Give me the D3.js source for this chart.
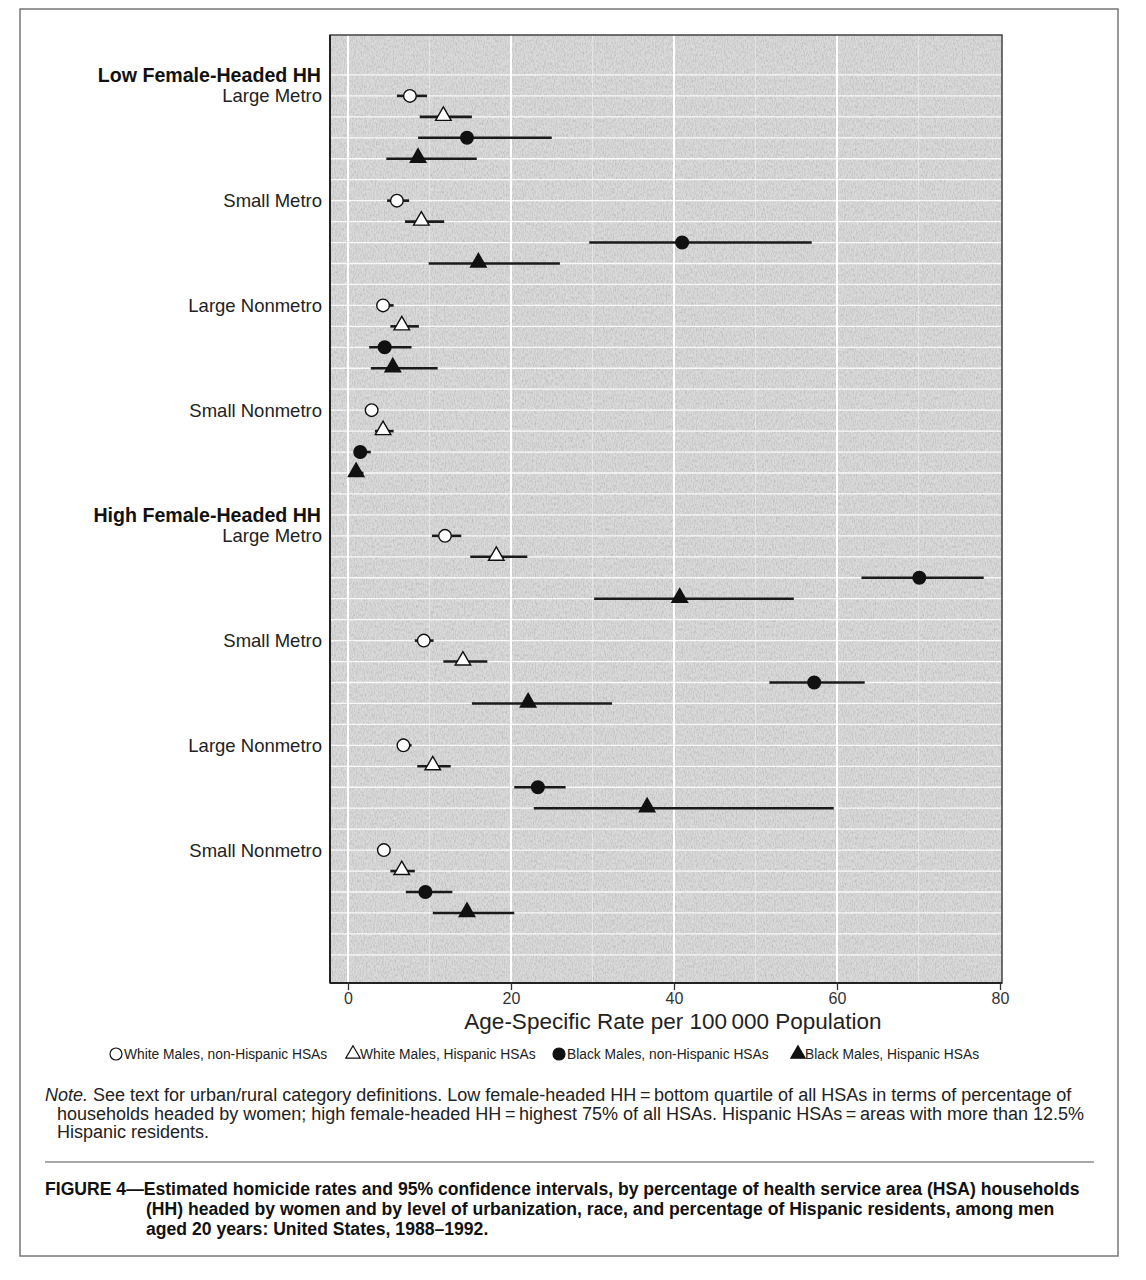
<!DOCTYPE html>
<html>
<head>
<meta charset="utf-8">
<script src="https://cdn.jsdelivr.net/npm/d3@7"></script>
<style>
body{margin:0;background:#fff;}
text{font-family:"Liberation Sans",Arial,Helvetica,sans-serif;}
</style>
</head>
<body>
<script>
// values (rate per 100 000, 95% CI)
var groups = ['Low Female-Headed HH', 'High Female-Headed HH'];
var areas = ['Large Metro', 'Small Metro', 'Large Nonmetro', 'Small Nonmetro'];
var seriesNames = ['White Males, non-Hispanic HSAs', 'White Males, Hispanic HSAs', 'Black Males, non-Hispanic HSAs', 'Black Males, Hispanic HSAs'];
var xTicks = [0, 20, 40, 60, 80];

// order: Low LM, SM, LN, SN, High LM, SM, LN, SN
var whiteNH   = [7.6, 6.0, 4.3, 2.9, 11.9, 9.3, 6.8, 4.4];
var whiteNHLo = [6.0, 4.8, 3.7, 2.5, 10.3, 8.2, 6.1, 4.0];
var whiteNHHi = [9.7, 7.5, 5.6, 3.3, 13.9, 10.5, 7.8, 4.8];

var whiteH   = [11.7, 9.0, 6.6, 4.3, 18.2, 14.1, 10.4, 6.6];
var whiteHLo = [8.8, 7.0, 5.2, 3.3, 15.0, 11.7, 8.5, 5.2];
var whiteHHi = [15.2, 11.8, 8.7, 5.6, 22.0, 17.1, 12.6, 8.2];

var blackNH   = [14.6, 41.0, 4.5, 1.5, 70.1, 57.2, 23.3, 9.5];
var blackNHLo = [8.6, 29.6, 2.6, 1.1, 63.0, 51.7, 20.4, 7.1];
var blackNHHi = [25.0, 56.9, 7.8, 2.8, 78.0, 63.4, 26.7, 12.8];

var blackH   = [8.6, 16.0, 5.5, 1.0, 40.7, 22.1, 36.7, 14.6];
var blackHLo = [4.7, 9.9, 2.8, 0.5, 30.2, 15.2, 22.8, 10.4];
var blackHHi = [15.8, 26.0, 11.0, 1.9, 54.7, 32.4, 59.6, 20.4];

var est = [whiteNH, whiteH, blackNH, blackH];
var lo = [whiteNHLo, whiteHLo, blackNHLo, blackHLo];
var hi = [whiteNHHi, whiteHHi, blackNHHi, blackHHi];

var W = 1146, H = 1280;
var svg = d3.select('body').append('svg').attr('width', W).attr('height', H);

// outer frame
svg.append('rect').attr('x', 20).attr('y', 9).attr('width', 1098).attr('height', 1247)
	.style('fill', 'none').style('stroke', '#777').style('stroke-width', 1.5);

var plotL = 330, plotR = 1002, plotT = 35, plotB = 983;
var x = d3.scaleLinear().domain([0, 80]).range([348, 1000]);
var y = d3.scaleLinear().domain([0, 43]).range([54, 54 + 43 * 20.95]);

// background with a bit of grain
var defs = svg.append('defs');
var f = defs.append('filter').attr('id', 'grain').attr('x', 0).attr('y', 0).attr('width', '100%').attr('height', '100%');
f.append('feTurbulence').attr('type', 'fractalNoise').attr('baseFrequency', '0.9 0.35').attr('numOctaves', 2).attr('seed', 4);
f.append('feColorMatrix').attr('type', 'matrix')
	.attr('values', '0 0 0 0 0  0 0 0 0 0  0 0 0 0 0  0 0 0 1.4 -0.55');
f.append('feComposite').attr('in2', 'SourceGraphic').attr('operator', 'in');

svg.append('rect').attr('x', plotL).attr('y', plotT).attr('width', plotR - plotL).attr('height', plotB - plotT)
	.style('fill', '#dadada');
svg.append('rect').attr('x', plotL).attr('y', plotT).attr('width', plotR - plotL).attr('height', plotB - plotT)
	.style('fill', '#000').style('opacity', 0.2).attr('filter', 'url(#grain)');

// grid
var rowIdx = d3.range(1, 44);
svg.selectAll('.hgrid').data(rowIdx).enter().append('line')
	.attr('x1', plotL).attr('x2', plotR)
	.attr('y1', function(d){ return y(d); }).attr('y2', function(d){ return y(d); })
	.style('stroke', '#fff').style('stroke-width', 1.3).style('opacity', 0.85);
svg.selectAll('.vminor').data([10, 30, 50, 70]).enter().append('line')
	.attr('x1', function(d){ return x(d); }).attr('x2', function(d){ return x(d); })
	.attr('y1', plotT).attr('y2', plotB)
	.style('stroke', '#fff').style('stroke-width', 1).style('opacity', 0.4);
svg.selectAll('.vgrid').data([0, 20, 40, 60]).enter().append('line')
	.attr('x1', function(d){ return x(d); }).attr('x2', function(d){ return x(d); })
	.attr('y1', plotT).attr('y2', plotB)
	.style('stroke', '#fff').style('stroke-width', 2);

svg.append('rect').attr('x', plotL).attr('y', plotT).attr('width', plotR - plotL).attr('height', plotB - plotT)
	.style('fill', 'none').style('stroke', '#444').style('stroke-width', 1.5);
svg.append('line').attr('x1', plotL).attr('x2', plotL).attr('y1', plotT).attr('y2', plotB)
	.style('stroke', '#222').style('stroke-width', 2);
svg.append('line').attr('x1', plotL).attr('x2', plotR).attr('y1', plotB).attr('y2', plotB)
	.style('stroke', '#222').style('stroke-width', 2);

// rows
var rows = [];
for (var g = 0; g < groups.length; g++) {
	for (var a = 0; a < areas.length; a++) {
		for (var s = 0; s < 4; s++) {
			var k = g * 4 + a;
			rows.push({row: 2 + g * 21 + a * 5 + s, s: s, v: est[s][k], lo: lo[s][k], hi: hi[s][k]});
		}
	}
}

// labels
groups.forEach(function(gName, g){
	svg.append('text').attr('x', 321).attr('y', y(1 + g * 21) + 7)
		.attr('text-anchor', 'end').style('font-size', '19.6px').style('font-weight', 'bold').style('fill', '#111')
		.text(gName);
	areas.forEach(function(aName, a){
		svg.append('text').attr('x', 322).attr('y', y(2 + g * 21 + a * 5) + 6.5)
			.attr('text-anchor', 'end').style('font-size', '18.5px').style('fill', '#222')
			.text(aName);
	});
});

// CI bars
svg.selectAll('.ci').data(rows).enter().append('line')
	.attr('x1', function(d){ return x(d.lo); }).attr('x2', function(d){ return x(d.hi); })
	.attr('y1', function(d){ return y(d.row); }).attr('y2', function(d){ return y(d.row); })
	.style('stroke', '#1a1a1a').style('stroke-width', 2.6);

var drawMarker = function(sel, s, cx, cy, r, triSize){
	if (s === 0 || s === 2) {
		sel.append('circle').attr('cx', cx).attr('cy', cy).attr('r', r)
			.style('fill', s === 0 ? '#fff' : '#111').style('stroke', '#111').style('stroke-width', 1.4);
	} else {
		sel.append('path').attr('d', d3.symbol().type(d3.symbolTriangle).size(triSize)())
			.attr('transform', 'translate(' + cx + ',' + (cy - 1) + ')')
			.style('fill', s === 1 ? '#fff' : '#111').style('stroke', '#111').style('stroke-width', 1.4);
	}
};
rows.forEach(function(d){
	drawMarker(svg, d.s, x(d.v), y(d.row), 6.3, 105);
});

// axis
var axis = svg.append('g').attr('transform', 'translate(0,' + plotB + ')')
	.call(d3.axisBottom(x).tickValues(xTicks).tickSize(7).tickPadding(3));
axis.select('.domain').remove();
axis.selectAll('line').style('stroke', '#333').style('stroke-width', 1.3);
axis.selectAll('text').style('font-size', '16px').style('fill', '#333')
	.style('font-family', '"Liberation Sans",Arial,sans-serif');

svg.append('text').attr('x', 673).attr('y', 1029).attr('text-anchor', 'middle')
	.style('font-size', '22.5px').style('fill', '#222')
	.text('Age-Specific Rate per 100\u2009000 Population');

// legend
var lg = svg.append('g');
var legX = [110, 346, 553, 791];
seriesNames.forEach(function(name, s){
	var gx = legX[s];
	if (s === 0 || s === 2) {
		lg.append('circle').attr('cx', gx + 6).attr('cy', 1054).attr('r', 6)
			.style('fill', s === 0 ? '#fff' : '#111').style('stroke', '#111').style('stroke-width', 1.2);
	} else {
		lg.append('path').attr('d', d3.symbol().type(d3.symbolTriangle).size(90)())
			.attr('transform', 'translate(' + (gx + 7) + ',1054)')
			.style('fill', s === 1 ? '#fff' : '#111').style('stroke', '#111').style('stroke-width', 1.2);
	}
	lg.append('text').attr('x', gx + 14).attr('y', 1059).style('font-size', '13.8px').style('fill', '#222').text(name);
});

// note
var note = svg.append('g').style('font-size', '18px').style('fill', '#222');
var t1 = note.append('text').attr('x', 45).attr('y', 1101);
t1.append('tspan').style('font-style', 'italic').text('Note.');
t1.append('tspan').text(' See text for urban/rural category definitions. Low female-headed HH\u2009=\u2009bottom quartile of all HSAs in terms of percentage of');
note.append('text').attr('x', 57).attr('y', 1120)
	.text('households headed by women; high female-headed HH\u2009=\u2009highest 75% of all HSAs. Hispanic HSAs\u2009=\u2009areas with more than 12.5%');
note.append('text').attr('x', 57).attr('y', 1138).text('Hispanic residents.');

svg.append('line').attr('x1', 45).attr('x2', 1094).attr('y1', 1162).attr('y2', 1162)
	.style('stroke', '#555').style('stroke-width', 1.2);

var cap = svg.append('g').style('font-size', '17.6px').style('font-weight', 'bold').style('fill', '#111');
cap.append('text').attr('x', 45).attr('y', 1195)
	.text('FIGURE 4\u2014Estimated homicide rates and 95% confidence intervals, by percentage of health service area (HSA) households');
cap.append('text').attr('x', 146).attr('y', 1215)
	.text('(HH) headed by women and by level of urbanization, race, and percentage of Hispanic residents, among men');
cap.append('text').attr('x', 146).attr('y', 1235)
	.text('aged 20 years: United States, 1988\u20131992.');
</script>
</body>
</html>
